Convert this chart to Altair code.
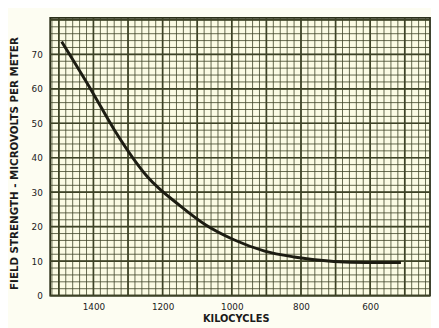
import altair as alt
import numpy as np
import pandas as pd

# Curve
kilocycles = [1492, 1405, 1339, 1244, 1150, 1074, 994, 905, 820, 705, 611, 511]
field_strength = [73.7, 59.4, 48.0, 34.5, 26.1, 20.4, 16.2, 12.9, 11.2, 9.9, 9.6, 9.6]

x_ticks = [1400, 1200, 1000, 800, 600]
y_ticks = [0, 10, 20, 30, 40, 50, 60, 70]
x_domain = [427, 1525]
y_domain = [0, 80.6]

curve = pd.DataFrame({"kc": kilocycles, "fs": field_strength})

x_minor = pd.DataFrame({"kc": np.arange(440, 1521, 20)})
x_major = pd.DataFrame({"kc": np.arange(500, 1501, 100)})
y_minor = pd.DataFrame({"fs": np.arange(0, 81, 2)})
y_major = pd.DataFrame({"fs": np.arange(0, 81, 10)})

xs = alt.Scale(domain=x_domain, reverse=True, nice=False, zero=False)
ys = alt.Scale(domain=y_domain, nice=False, zero=False)

x_axis = alt.Axis(values=x_ticks, format="d", grid=False, ticks=False, domain=False,
                  labelFont="DejaVu Sans", labelFontSize=9, labelColor="#222",
                  labelPadding=7,
                  title="KILOCYCLES", titleFont="DejaVu Sans", titleFontSize=10,
                  titleFontWeight="bold", titleColor="#1a1a1a",
                  titleX=189, titleY=23, titleAnchor="middle", titleBaseline="middle")
y_axis = alt.Axis(values=y_ticks, format="d", grid=False, ticks=False, domain=False,
                  labelFont="DejaVu Sans", labelFontSize=9, labelColor="#222",
                  labelPadding=8,
                  title="FIELD STRENGTH - MICROVOLTS PER METER",
                  titleFont="DejaVu Sans", titleFontSize=10.5, titleFontWeight="bold",
                  titleColor="#1a1a1a", titleAngle=270,
                  titleX=-36, titleY=148, titleAlign="center", titleBaseline="middle")

X = alt.X("kc:Q", scale=xs, axis=x_axis)
Y = alt.Y("fs:Q", scale=ys, axis=y_axis)

grid_col = "#3d4226"

vminor = alt.Chart(x_minor).mark_rule(color=grid_col, strokeWidth=1, opacity=0.8).encode(x=X)
hminor = alt.Chart(y_minor).mark_rule(color=grid_col, strokeWidth=1, opacity=0.8).encode(y=Y)
vmajor = alt.Chart(x_major).mark_rule(color=grid_col, strokeWidth=1.7).encode(x=X)
hmajor = alt.Chart(y_major).mark_rule(color=grid_col, strokeWidth=1.7).encode(y=Y)

line = alt.Chart(curve).mark_line(color="#1c1c12", strokeWidth=3, interpolate="monotone").encode(
    x=X, y=Y)

chart = alt.layer(vminor, hminor, vmajor, hmajor, line).properties(
    width=387, height=283,
    autosize=alt.AutoSizeParams(type="none"),
    padding={"left": 43, "top": 7, "right": 1, "bottom": 30},
    background="#fdfdf2",
).configure_view(fill="#fbfbe4", stroke="#2b2f1a", strokeWidth=1.8)

chart.save("out.html", embed_options={"renderer": "svg", "actions": False})
